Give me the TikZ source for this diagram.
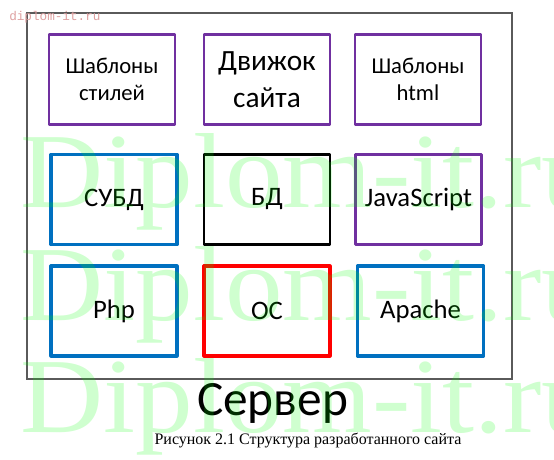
\documentclass[tikz,border=0pt]{standalone}
\usepackage{fontspec}
\setmainfont{Carlito}
\newfontfamily\capfont{Liberation Serif}
\newfontfamily\wmfont{Liberation Serif}
\newfontfamily\wmmono{Liberation Mono}
\definecolor{partpurple}{RGB}{112,48,160}
\definecolor{partblue}{RGB}{0,112,192}
\definecolor{partred}{RGB}{255,0,0}
\definecolor{framegray}{RGB}{90,90,90}
\definecolor{wmgreen}{RGB}{0,255,0}
\definecolor{wmpink}{RGB}{222,160,160}
\tikzset{
  part/.style={draw, line width=2pt, line join=round, minimum width=94.5pt, minimum height=67.5pt, inner sep=0pt, align=center},
  small/.style={font=\fontsize{17}{20.5}\selectfont},
  big/.style={font=\fontsize{22}{27.5}\selectfont},
  mid/.style={font=\fontsize{20}{24}\selectfont},
  purplepart/.style={part, draw=partpurple},
  bluepart/.style={part, draw=partblue, line width=2.4pt},
  redpart/.style={part, draw=partred, line width=2.4pt},
  blackpart/.style={part, draw=black},
  wmark/.style={text=wmgreen, text opacity=0.19, inner sep=0pt, anchor=base west, xscale=1.08, font=\wmfont\fontsize{80}{80}\selectfont}
}
\begin{document}
\begin{tikzpicture}[x=0.75pt,y=0.75pt,yscale=-1,xscale=1]
\useasboundingbox (0,0) rectangle (554,460);

%Shape: Rectangle (server)
\draw [framegray, line width=0.8pt] (27,13) rectangle (512,379) ;

%Shape: Rectangle (row 1)
\node (shablstil) at (112,79.5) [purplepart, small] {Шаблоны\\стилей};
\node (dvizhok) at (267,79.5) [purplepart, big] {Движок\\сайта};
\node (shablhtml) at (418,79.5) [purplepart, small] {Шаблоны\\html};

%Shape: Rectangle (row 2)
\node (subd) at (114,199.5) [bluepart, mid] {СУБД};
\node (bd) at (267,199.5) [blackpart, mid] {БД};
\node (js) at (418.5,199.5) [purplepart, mid] {JavaScript};

%Shape: Rectangle (row 3)
\node (php) at (114,311) [bluepart, mid] {Php};
\node (os) at (267,311) [redpart, mid] {ОС};
\node (apache) at (420.5,311) [bluepart, mid] {Apache};

% Text Node
\node (server) at (272.5,415) [anchor=base, inner sep=0pt, font=\fontsize{37}{40}\selectfont] {Сервер};
% Text Node
\node (caption) at (308,444) [anchor=base, inner sep=0pt, font=\capfont\fontsize{12}{14}\selectfont] {Рисунок 2.1 Структура разработанного сайта};

% watermark
\node (wm1) at (20,208) [wmark] {Diplom-it.ru};
\node (wm2) at (20,320) [wmark] {Diplom-it.ru};
\node (wm3) at (20,432) [wmark] {Diplom-it.ru};
\node (wm0) at (9,17) [anchor=west, inner sep=0pt, text=wmpink, font=\wmmono\fontsize{9.5}{11}\selectfont] {diplom-it.ru};

\end{tikzpicture}
\end{document}
